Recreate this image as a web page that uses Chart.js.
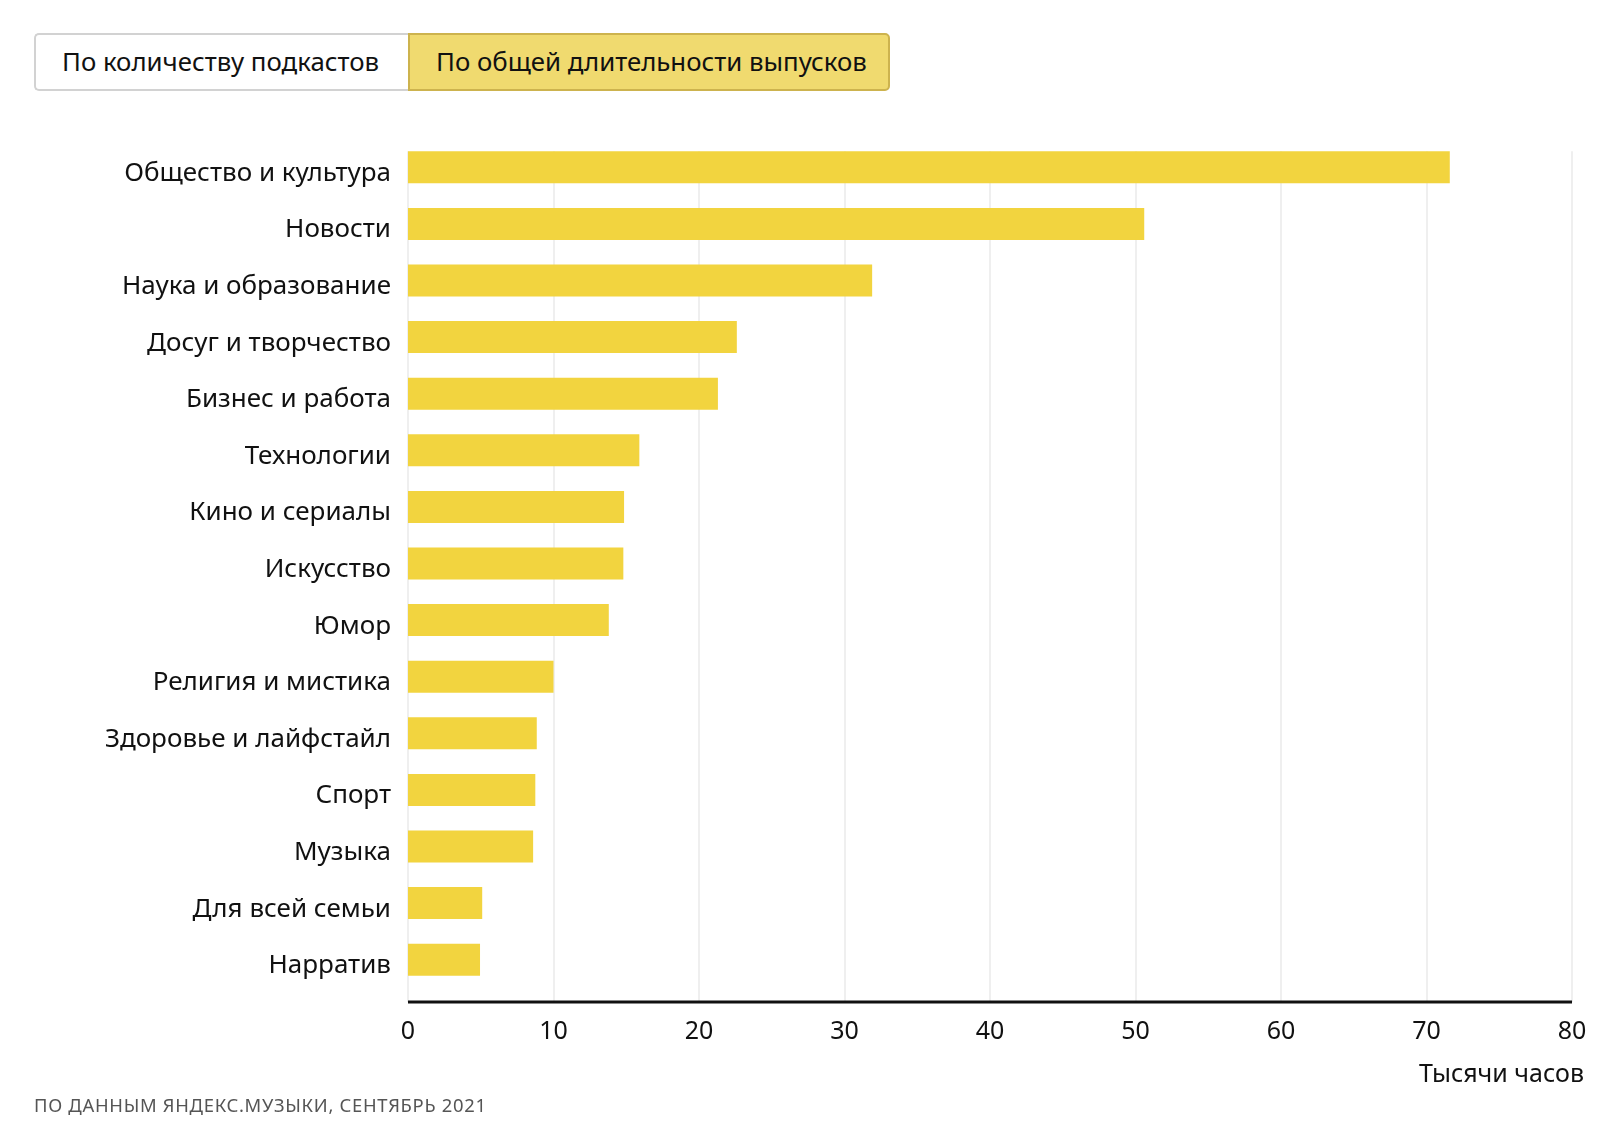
<!DOCTYPE html>
<html lang="ru">
<head>
  <meta charset="UTF-8" />
  <title>Подкасты по длительности выпусков</title>
  <script src="https://cdn.jsdelivr.net/npm/chart.js"></script>
  <style>
    html, body { margin: 0; padding: 0; background: #fff; }
    body { width: 1622px; height: 1128px; position: relative; overflow: hidden; font-family: "Noto Sans", sans-serif; color: #111; }
    .grafico { position: absolute; left: 0; top: 0; width: 1622px; height: 1128px; }
    .botoes { position: absolute; left: 34px; top: 33px; height: 58px; display: flex; }
    .botao { box-sizing: border-box; height: 58px; font-size: 25.8px; line-height: 52px; padding: 0 26px; border: 2px solid #d2d2d2; white-space: nowrap; }
    .botao.b1 { width: 374px; background: #fff; border-radius: 5px 0 0 5px; border-right: none; }
    .botao.b2 { width: 482px; background: #f0da6f; border-color: #cdb34e; border-radius: 0 5px 5px 0; }
    .unidade { position: absolute; right: 38px; top: 1055px; font-size: 25px; }
    .fonte { position: absolute; left: 34px; top: 1092px; font-size: 18.4px; letter-spacing: 0.7px; color: #555; }
  </style>
</head>
<body>
  <div class="grafico"><canvas id="graficoPodcasts"></canvas></div>
  <div class="botoes">
    <div class="botao b1">По количеству подкастов</div>
    <div class="botao b2">По общей длительности выпусков</div>
  </div>
  <div class="unidade">Тысячи часов</div>
  <div class="fonte">ПО ДАННЫМ ЯНДЕКС.МУЗЫКИ, СЕНТЯБРЬ 2021</div>

  <script>
    const categorias = ['Общество и культура', 'Новости', 'Наука и образование', 'Досуг и творчество',
      'Бизнес и работа', 'Технологии', 'Кино и сериалы', 'Искусство', 'Юмор', 'Религия и мистика',
      'Здоровье и лайфстайл', 'Спорт', 'Музыка', 'Для всей семьи', 'Нарратив'];
    const horas = [71.6, 50.6, 31.9, 22.6, 21.3, 15.9, 14.85, 14.8, 13.8, 10.0, 8.85, 8.75, 8.6, 5.1, 4.95];
    const ticksX = [0, 10, 20, 30, 40, 50, 60, 70, 80];

    // grade vertical e linha do eixo desenhadas a partir da escala x
    const gradeEixo = {
      id: 'gradeEixo',
      beforeDatasetsDraw(chart) {
        const { ctx, chartArea, scales } = chart;
        const meta = chart.getDatasetMeta(0);
        const topo = meta.data[0].y - meta.data[0].height / 2;
        ctx.save();
        ctx.strokeStyle = '#efefef';
        ctx.lineWidth = 2;
        ticksX.forEach(v => {
          const x = Math.round(scales.x.getPixelForValue(v));
          ctx.beginPath();
          ctx.moveTo(x, topo);
          ctx.lineTo(x, chartArea.bottom + 14);
          ctx.stroke();
        });
        ctx.restore();
      },
      afterDatasetsDraw(chart) {
        const { ctx, chartArea, scales } = chart;
        const y = chartArea.bottom + 14;
        ctx.save();
        ctx.strokeStyle = '#111';
        ctx.lineWidth = 3;
        ctx.beginPath();
        ctx.moveTo(scales.x.getPixelForValue(0), y);
        ctx.lineTo(scales.x.getPixelForValue(80), y);
        ctx.stroke();
        ctx.restore();
      }
    };

    const ctx = document.getElementById('graficoPodcasts');
    new Chart(ctx, {
      type: 'bar',
      data: {
        labels: categorias,
        datasets: [{
          data: horas,
          backgroundColor: '#f2d43f',
          borderWidth: 0,
          barPercentage: 0.565,
          categoryPercentage: 1
        }]
      },
      plugins: [gradeEixo],
      options: {
        indexAxis: 'y',
        responsive: true,
        maintainAspectRatio: false,
        animation: false,
        layout: { padding: { top: 139, right: 50, bottom: 0, left: 0 } },
        plugins: { legend: { display: false }, tooltip: { enabled: false } },
        scales: {
          x: {
            min: 0,
            max: 80,
            afterBuildTicks(scale) { scale.ticks = ticksX.map(v => ({ value: v })); },
            afterFit(scale) { scale.height = 140; },
            grid: { display: false, drawTicks: false },
            border: { display: false },
            ticks: { padding: 29, color: '#111', font: { family: 'Noto Sans', size: 25 } }
          },
          y: {
            afterFit(scale) { scale.width = 408; },
            grid: { display: false, drawTicks: false },
            border: { display: false },
            ticks: { padding: 17, labelOffset: 6, color: '#111', font: { family: 'Noto Sans', size: 26 } }
          }
        }
      }
    });
  </script>
</body>
</html>
